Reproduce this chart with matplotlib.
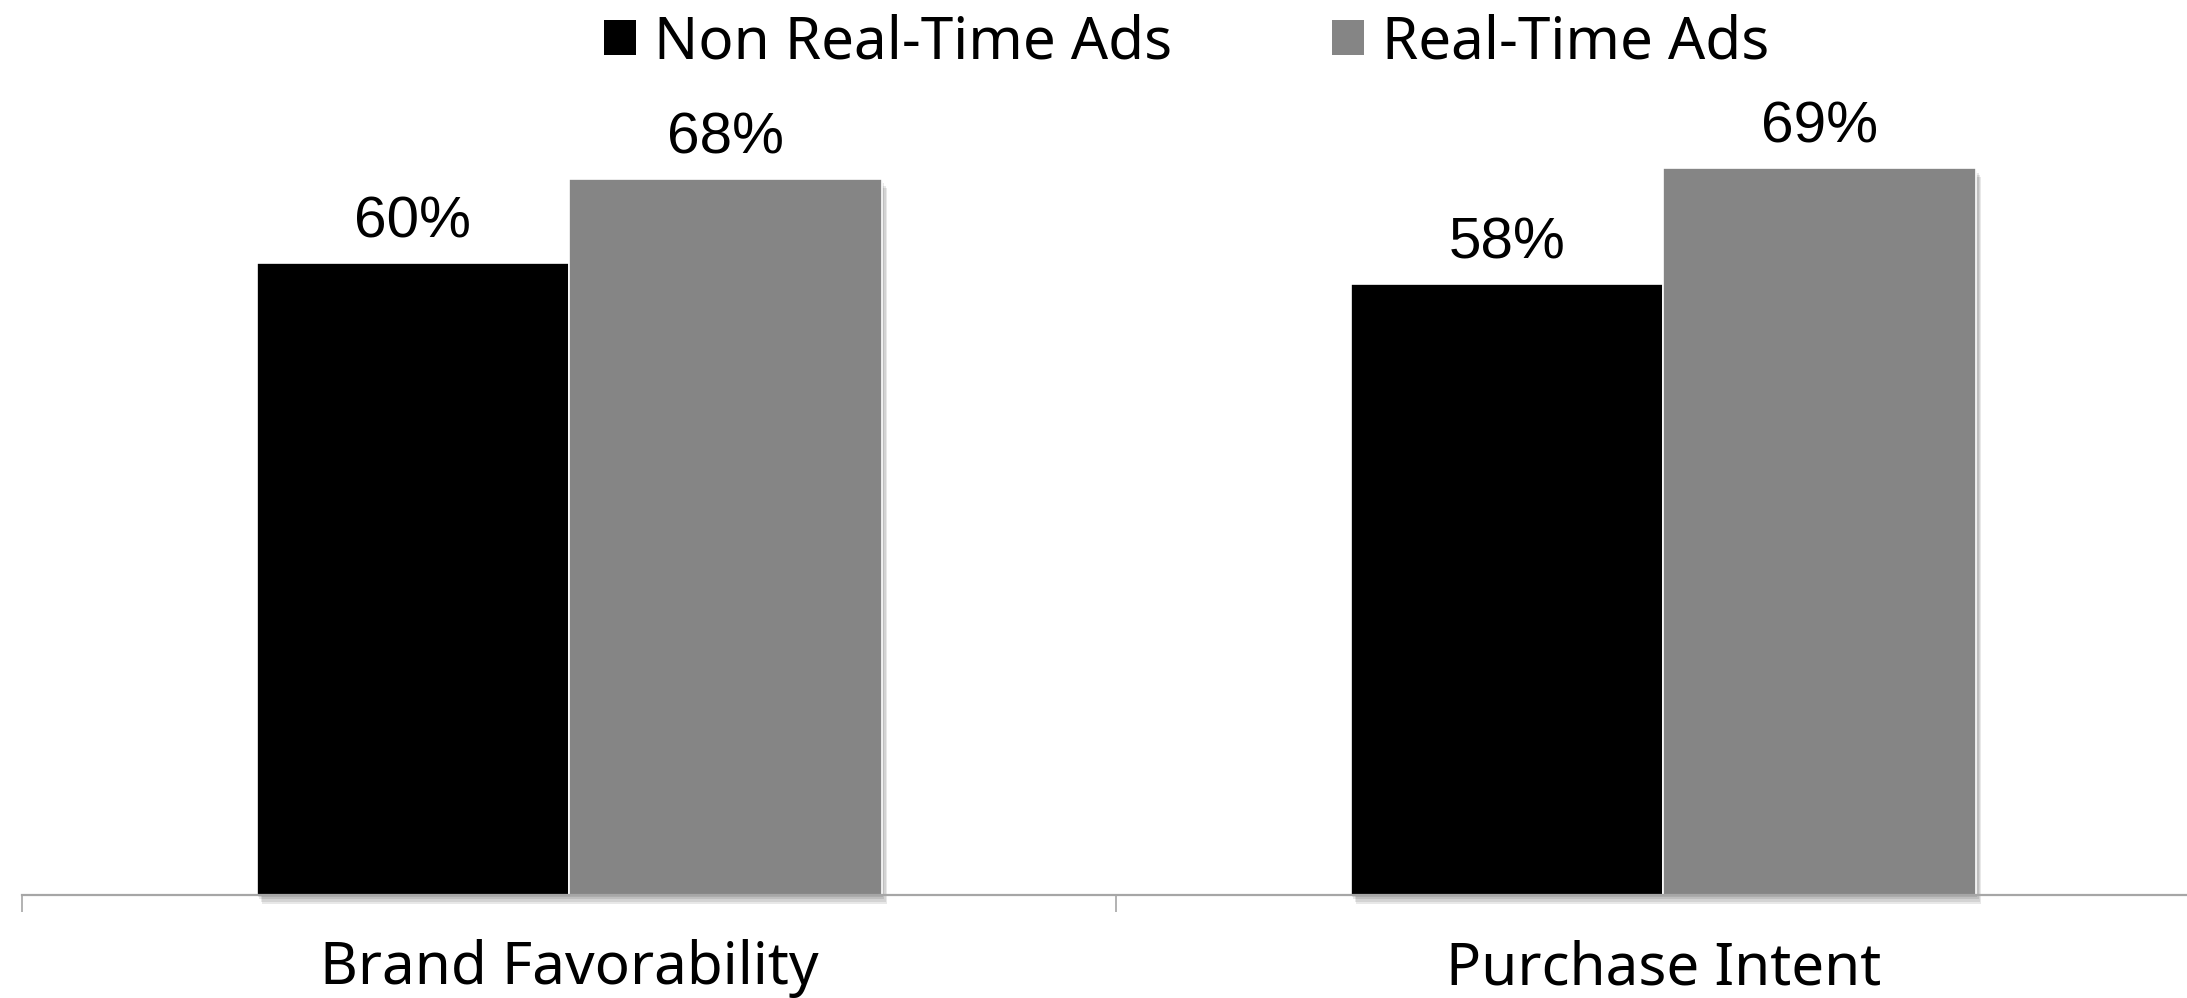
import numpy as np
import matplotlib
matplotlib.use('Agg')
import matplotlib.pyplot as plt
import matplotlib.patheffects as pe
from matplotlib.patches import Patch

# -----------------------------
# data
# -----------------------------
categories = ['Brand Favorability', 'Purchase Intent']
series_names = ['Non Real-Time Ads', 'Real-Time Ads']
non_real_time = [60, 58]
real_time = [68, 69]
bar_colors = ['#000000', '#858585']

label_font = 'Noto Sans'
value_font = 'Liberation Sans'

fig = plt.figure(figsize=(21.87, 9.98), dpi=100)
ax = fig.add_axes([0.0101, 0.1032, 1.0005, 0.8441])

x = np.arange(len(categories))
w = 0.2857  # gap width 150%

# soft drop shadow under each bar
shadow = [pe.SimplePatchShadow(offset=(o, -o * 1.6), shadow_rgbFace='k', alpha=0.09)
          for o in (4, 3, 2, 1)] + [pe.Normal()]

bars = []
for i, (vals, col) in enumerate(zip([non_real_time, real_time], bar_colors)):
    b = ax.bar(x + (i - 0.5) * w, vals, width=w, color=col, edgecolor='white',
               linewidth=1.2, label=series_names[i], clip_on=False, zorder=2)
    for p in b:
        p.set_path_effects(shadow)
    bars.append(b)

for b in bars:
    ax.bar_label(b, labels=[f'{v:.0f}%' for v in b.datavalues], padding=10,
                 fontsize=42, fontfamily=value_font, color='black')

ax.set_xlim(-0.5, 1.5)
ax.set_ylim(0, 80)

for s in ['top', 'right', 'left']:
    ax.spines[s].set_visible(False)
ax.spines['bottom'].set_color('#a6a6a6')
ax.spines['bottom'].set_linewidth(1.6)
ax.spines['bottom'].set_zorder(3)
ax.set_yticks([])

# category labels on major ticks, divider ticks on minor
ax.set_xticks(x)
ax.set_xticklabels(categories, fontsize=42, fontfamily=label_font)
ax.tick_params(axis='x', which='major', length=0, pad=32)
ax.set_xticks([-0.5, 0.5, 1.5], minor=True)
ax.tick_params(axis='x', which='minor', length=12, width=1.2, color='#a6a6a6')

handles = [Patch(facecolor=c, edgecolor='none') for c in bar_colors]
fig.legend(handles, series_names, loc='center', bbox_to_anchor=(0.5425, 0.957),
           ncol=2, frameon=False, prop={'family': label_font, 'size': 42},
           handlelength=0.55, handleheight=0.55, handletextpad=0.3,
           columnspacing=2.75, borderpad=0)

fig.savefig('out.png', dpi=100)
